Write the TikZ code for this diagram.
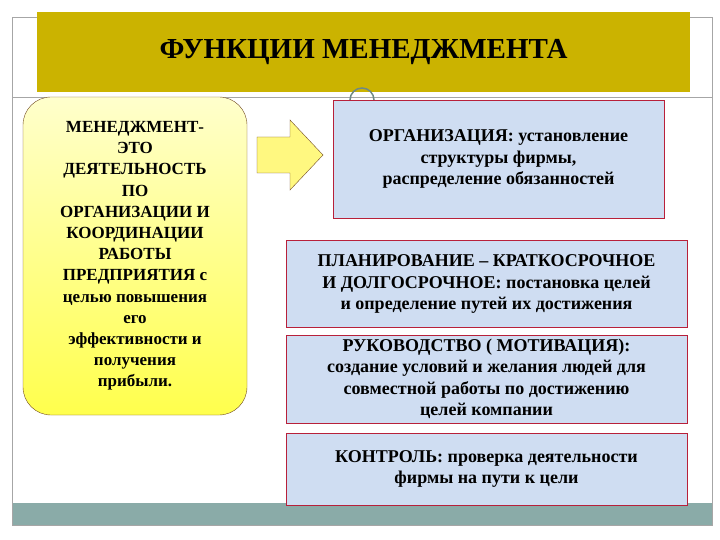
\documentclass[tikz,border=0pt]{standalone}
\usepackage{fontspec}
\setmainfont{Liberation Serif}
\definecolor{gold}{HTML}{CBB300}
\definecolor{teal2}{HTML}{8AABA8}
\definecolor{boxfill}{HTML}{CFDDF2}
\definecolor{boxline}{HTML}{B8203A}
\tikzset{
 fbox/.style={draw=boxline,line width=0.8pt,fill=boxfill,align=center,inner sep=0pt,font=\bfseries\fontsize{18}{21.5}\selectfont},
}
\begin{document}
\begin{tikzpicture}[x=1pt,y=-1pt]
\useasboundingbox (0,0) rectangle (720,540);
\fill[white] (0,0) rectangle (720,540);
\fill[teal2] (12,503) rectangle (712,525);
\draw[gray!70] (12,17) rectangle (712,525);
\draw[gray!70] (12,97) -- (712,97);
\node[fill=gold,minimum width=653pt,minimum height=80pt,font=\bfseries\fontsize{29}{32}\selectfont] (title) at (363.5,52) {ФУНКЦИИ МЕНЕДЖМЕНТА};
\node[draw=teal2!80!black,line width=1.5pt,circle,minimum size=24pt] (ring) at (362,100) {};
\node[draw=brown!60!black,rounded corners=28pt,top color=yellow!20,bottom color=yellow!70,minimum width=224pt,minimum height=318pt,align=center,inner sep=0pt,font=\bfseries\fontsize{17}{21.2}\selectfont] (left) at (135,256) {МЕНЕДЖМЕНТ-\\ЭТО\\ДЕЯТЕЛЬНОСТЬ\\ПО\\ОРГАНИЗАЦИИ И\\КООРДИНАЦИИ\\РАБОТЫ\\ПРЕДПРИЯТИЯ с\\целью повышения\\его\\эффективности и\\получения\\прибыли.};
\node[fbox,minimum width=331pt,minimum height=118pt] (b1) at (498.5,159) {ОРГАНИЗАЦИЯ: установление\\структуры фирмы,\\распределение обязанностей};
\draw[brown!60!black,fill=yellow!50] (257,137) -- (290,137) -- (290,120) -- (323,155) -- (290,190) -- (290,173) -- (257,173) -- cycle;
\node[fbox,minimum width=401pt,minimum height=87pt] (b2) at (486.5,284) {ПЛАНИРОВАНИЕ – КРАТКОСРОЧНОЕ\\И ДОЛГОСРОЧНОЕ: постановка целей\\и определение путей их достижения};
\node[fbox,minimum width=401pt,minimum height=88pt] (b3) at (486.5,379) {РУКОВОДСТВО ( МОТИВАЦИЯ):\\создание условий и желания людей для\\совместной работы по достижению\\целей компании};
\node[fbox,minimum width=401pt,minimum height=72pt] (b4) at (486.5,469) {КОНТРОЛЬ: проверка деятельности\\фирмы  на пути к цели};
\end{tikzpicture}
\end{document}
